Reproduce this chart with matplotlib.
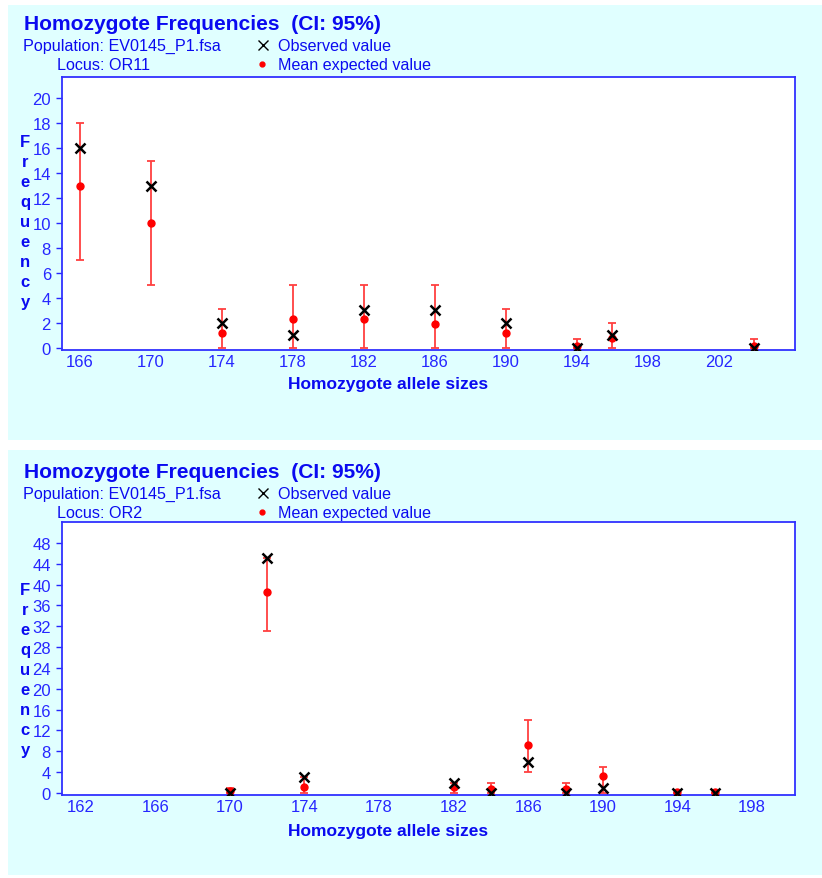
import matplotlib
matplotlib.use("Agg")
import matplotlib.pyplot as plt
from matplotlib.patches import Rectangle
from matplotlib.lines import Line2D
import numpy as np

# ---------------- data ----------------
top_x = [166, 170, 174, 178, 182, 186, 190, 194, 196, 204]
top_obs = [16, 13, 2, 1, 3, 3, 2, 0, 1, 0]
top_exp = [13, 10, 1.2, 2.3, 2.3, 1.9, 1.2, 0.1, 0.8, 0.1]
top_lo = [7, 5, 0, 0, 0, 0, 0, 0, 0, 0]
top_hi = [18, 15, 3.1, 5, 5, 5, 3.1, 0.7, 2, 0.7]
top_xticks = [166, 170, 174, 178, 182, 186, 190, 194, 198, 202]
top_yticks = [0, 2, 4, 6, 8, 10, 12, 14, 16, 18, 20]
top_locus = "Locus: OR11"

bot_x = [170, 172, 174, 182, 184, 186, 188, 190, 194, 196]
bot_obs = [0, 45, 3, 2, 0, 6, 0, 1, 0, 0]
bot_exp = [0.3, 38.5, 1.2, 1.2, 0.8, 9.3, 0.8, 3.2, 0.1, 0.1]
bot_lo = [0, 31, 0, 0, 0, 4, 0, 0, 0, 0]
bot_hi = [1, 45, 3, 2, 2, 14, 2, 5, 0.5, 0.5]
bot_xticks = [162, 166, 170, 174, 178, 182, 186, 190, 194, 198]
bot_yticks = [0, 4, 8, 12, 16, 20, 24, 28, 32, 36, 40, 44, 48]
bot_locus = "Locus: OR2"

title = "Homozygote Frequencies  (CI: 95%)"
population = "Population: EV0145_P1.fsa"
xlabel = "Homozygote allele sizes"
ylabel = "Frequency"
leg_obs = "Observed value"
leg_exp = "Mean expected value"

# ---------------- style ----------------
W, H = 822, 879
BG = "#E0FFFF"
BLUE = "#0A0AF0"
TICKBLUE = "#2626FF"
SPINE = "#3030FF"
RED = "#FF0000"
ERR = "#FF4040"
SANS = ["Liberation Sans", "DejaVu Sans"]

fig = plt.figure(figsize=(W / 100, H / 100), dpi=100, facecolor="white")


def fx(px):
    return px / W


def fy(py):
    return 1 - py / H


def panel(off, rect, x, obs, exp, lo, hi, xticks, yticks, xlim, ylim, locus, axbox):
    r0, r1 = rect
    fig.add_artist(Rectangle((fx(8), fy(r1)), 1 - fx(8), (r1 - r0) / H,
                             transform=fig.transFigure, facecolor=BG, edgecolor="none", zorder=0))
    fig.text(fx(24), fy(off + 30), title, color=BLUE, fontsize=15.1, fontweight="bold",
             family=SANS, ha="left", va="baseline")
    fig.text(fx(23), fy(off + 51), population, color=BLUE, fontsize=11.6,
             family=SANS, ha="left", va="baseline")
    fig.text(fx(57), fy(off + 70), locus, color=BLUE, fontsize=11.6,
             family=SANS, ha="left", va="baseline")
    fig.add_artist(Line2D([fx(263)], [fy(off + 46)], marker="x", color="black", ms=7, mew=1.0,
                          transform=fig.transFigure, linestyle="none"))
    fig.text(fx(278), fy(off + 51), leg_obs, color=BLUE, fontsize=11.6,
             family=SANS, ha="left", va="baseline")
    fig.add_artist(Line2D([fx(262)], [fy(off + 65)], marker="o", color=RED, ms=3.5,
                          transform=fig.transFigure, linestyle="none"))
    fig.text(fx(278), fy(off + 70), leg_exp, color=BLUE, fontsize=11.6,
             family=SANS, ha="left", va="baseline")
    for i, ch in enumerate(ylabel):
        fig.text(fx(25), fy(off + 147 + 20 * i), ch, color=BLUE, fontsize=12, fontweight="bold",
                 family=SANS, ha="center", va="baseline")
    fig.text(fx(388), fy(off + 384), xlabel, color=BLUE, fontsize=12.5, fontweight="bold",
             family=SANS, ha="center", va="center")

    l, t, r, b = axbox
    ax = fig.add_axes([fx(l), fy(b), fx(r) - fx(l), (b - t) / H])
    ax.set_facecolor("white")
    for s in ax.spines.values():
        s.set_color(SPINE)
        s.set_linewidth(1.3)
    exp_a = np.array(exp, dtype=float)
    yerr = [exp_a - np.array(lo), np.array(hi) - exp_a]
    ax.errorbar(x, exp, yerr=yerr, fmt="o", color=RED, ms=5, ecolor=ERR,
                elinewidth=1.3, capsize=3, capthick=1.3, zorder=3)
    ax.plot(x, obs, "x", color="black", ms=7.5, mew=1.8, zorder=4, linestyle="none")
    ax.set_xlim(*xlim)
    ax.set_ylim(*ylim)
    ax.set_xticks(xticks)
    ax.set_xticklabels([str(v) for v in xticks], family=SANS, fontsize=12, color=TICKBLUE)
    ax.set_yticks(yticks)
    ax.set_yticklabels([str(v) for v in yticks], family=SANS, fontsize=12, color=TICKBLUE)
    ax.tick_params(axis="x", length=0, pad=3)
    ax.tick_params(axis="y", length=4, width=1, color=TICKBLUE, pad=4, direction="out")
    return ax


panel(0, (6, 441), top_x, top_obs, top_exp, top_lo, top_hi, top_xticks, top_yticks,
      (165.0, 206.3), (-0.19, 21.7), top_locus, (62, 78, 795, 351))
panel(448, (451, 876), bot_x, bot_obs, bot_exp, bot_lo, bot_hi, bot_xticks, bot_yticks,
      (161.0, 200.3), (-0.38, 52.0), bot_locus, (62, 523, 795, 796))

fig.savefig("out.png", dpi=100, facecolor="white")
